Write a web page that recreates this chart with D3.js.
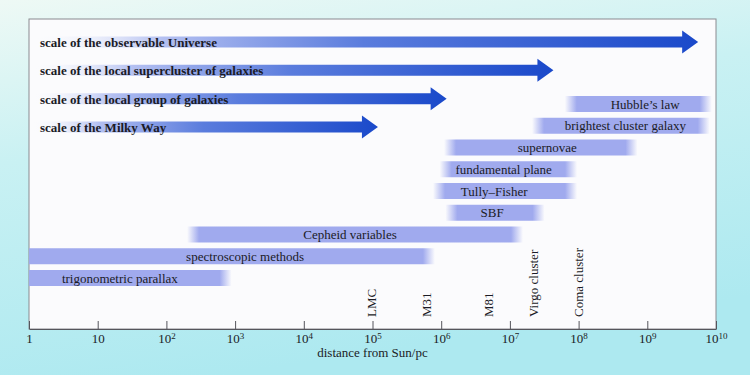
<!DOCTYPE html>
<html lang="en">
<head>
<meta charset="UTF-8">
<title>Distance scale methods</title>
<style>
  body { margin: 0; padding: 0; }
  svg { display: block; }
  text { fill: #1b1b26; }
</style>
<script src="https://d3js.org/d3.v7.min.js"></script>
</head>
<body>
<div id="chart"></div>
<script>
// size scales (arrows run from 1 pc up to the tip)
const scaleNames = [
  "scale of the observable Universe",
  "scale of the local supercluster of galaxies",
  "scale of the local group of galaxies",
  "scale of the Milky Way"
];
const scaleTips = [5.5e9, 4.3e7, 1.2e6, 1.2e5];

// distance methods, ranges in pc
const methods = [
  "Hubble\u2019s law", "brightest cluster galaxy", "supernovae", "fundamental plane",
  "Tully\u2013Fisher", "SBF", "Cepheid variables", "spectroscopic methods", "trigonometric parallax"
];
const methodFrom = [6.3e7, 2.1e7, 1.1e6, 9.5e5, 7.6e5, 1.15e6, 200, 1, 1];
const methodTo   = [8.7e9, 8.1e9, 7.2e8, 9.5e7, 9.5e7, 3.2e7, 1.55e7, 8.1e5, 890];
const methodLabelAt = [9.3e8, 4.8e8, 3.5e7, 8.1e6, 5.9e6, 5.5e6, 4.7e4, 1.4e3, 21];

// reference objects
const objects = ["LMC", "M31", "M81", "Virgo cluster", "Coma cluster"];
const objectDist = [9.5e4, 6e5, 4.8e6, 2.2e7, 1e8];

const tickValues = [1, 10, 1e2, 1e3, 1e4, 1e5, 1e6, 1e7, 1e8, 1e9, 1e10];

const width = 750, height = 375;
const plotLeft = 29, plotRight = 716, plotTop = 19, plotBottom = 329;
const serif = "'Liberation Serif', 'Times New Roman', serif";

const svg = d3.select("#chart").append("svg")
  .attr("width", width).attr("height", height)
  .attr("font-family", serif);
const defs = svg.append("defs");

// page background
const bg = defs.append("linearGradient").attr("id", "bg")
  .attr("x1", 0).attr("y1", 0).attr("x2", 0.3).attr("y2", 1);
bg.append("stop").attr("offset", 0).attr("stop-color", "#eef9f5");
bg.append("stop").attr("offset", 0.4).attr("stop-color", "#c9f1f3");
bg.append("stop").attr("offset", 1).attr("stop-color", "#ade9f0");
svg.append("rect").attr("width", width).attr("height", height).attr("fill", "url(#bg)");

svg.append("rect")
  .attr("x", plotLeft).attr("y", plotTop)
  .attr("width", plotRight - plotLeft).attr("height", plotBottom - plotTop)
  .attr("fill", "#fbfbfd").attr("stroke", "#8a8a90").attr("stroke-width", 1);

const x = d3.scaleLog().domain([1, 1e10]).range([plotLeft, plotRight]);
const yArrow = d3.scalePoint().domain(scaleNames).range([42, 127]);
const yMethod = d3.scalePoint().domain(methods).range([104, 278]);

// method bars with soft ends
const barH = 16, fade = 12, barColor = "#a0aaee";
methods.forEach((m, i) => {
  const x0 = x(methodFrom[i]), x1 = x(methodTo[i]);
  const w = x1 - x0;
  const g = defs.append("linearGradient").attr("id", "m" + i)
    .attr("x1", 0).attr("x2", 1).attr("y1", 0).attr("y2", 0);
  const f = fade / w;
  const hardLeft = methodFrom[i] <= 1;
  g.append("stop").attr("offset", 0).attr("stop-color", barColor).attr("stop-opacity", hardLeft ? 1 : 0);
  g.append("stop").attr("offset", hardLeft ? 0 : f).attr("stop-color", barColor).attr("stop-opacity", 1);
  g.append("stop").attr("offset", 1 - f).attr("stop-color", barColor).attr("stop-opacity", 1);
  g.append("stop").attr("offset", 1).attr("stop-color", barColor).attr("stop-opacity", 0);

  svg.append("rect")
    .attr("x", x0).attr("y", yMethod(m) - barH / 2)
    .attr("width", w).attr("height", barH)
    .attr("fill", `url(#m${i})`);

  svg.append("text")
    .attr("x", x(methodLabelAt[i])).attr("y", yMethod(m) + 4.5)
    .attr("text-anchor", "middle")
    .attr("font-size", 13)
    .text(m);
});

// scale arrows
const ag = defs.append("linearGradient").attr("id", "arrowGrad")
  .attr("x1", 0).attr("x2", 1).attr("y1", 0).attr("y2", 0);
ag.append("stop").attr("offset", 0).attr("stop-color", "#ffffff").attr("stop-opacity", 0);
ag.append("stop").attr("offset", 0.2).attr("stop-color", "#b3bff1");
ag.append("stop").attr("offset", 0.5).attr("stop-color", "#5a7cdd");
ag.append("stop").attr("offset", 1).attr("stop-color", "#1a49ca");

const bodyH = 11, headH = 23, headL = 16;
scaleNames.forEach((s, i) => {
  const cy = yArrow(s), x0 = x(1), tip = x(scaleTips[i]);
  const p = d3.path();
  p.moveTo(x0, cy - bodyH / 2);
  p.lineTo(tip - headL, cy - bodyH / 2);
  p.lineTo(tip - headL, cy - headH / 2);
  p.lineTo(tip, cy);
  p.lineTo(tip - headL, cy + headH / 2);
  p.lineTo(tip - headL, cy + bodyH / 2);
  p.lineTo(x0, cy + bodyH / 2);
  p.closePath();
  svg.append("path").attr("d", p.toString()).attr("fill", "url(#arrowGrad)");

  svg.append("text")
    .attr("x", 40).attr("y", cy + 5)
    .attr("font-size", 13).attr("font-weight", "bold")
    .text(s);
});

// reference objects, vertical labels
objects.forEach((o, i) => {
  svg.append("text")
    .attr("transform", `translate(${x(objectDist[i])},317) rotate(-90)`)
    .attr("dy", "0.35em")
    .attr("font-size", 13)
    .text(o);
});

// axis
const axis = d3.axisBottom(x)
  .tickValues(tickValues)
  .tickSize(-8)
  .tickSizeOuter(0)
  .tickPadding(5)
  .tickFormat(() => "");

const ax = svg.append("g")
  .attr("transform", `translate(0,${plotBottom})`)
  .call(axis)
  .attr("font-family", serif);
ax.select(".domain").attr("stroke", "#55555c");
ax.selectAll(".tick line").attr("stroke", "#55555c");
ax.selectAll(".tick text").each(function(d) {
  const t = d3.select(this)
    .attr("font-size", 13)
    .attr("fill", "#1b1b26");
  const e = Math.round(Math.log10(d));
  if (e === 0) { t.append("tspan").text("1"); return; }
  t.append("tspan").text("10");
  if (e > 1) {
    t.append("tspan").attr("dy", "-0.45em").attr("font-size", 9).text(e);
  }
});

svg.append("text")
  .attr("x", (plotLeft + plotRight) / 2).attr("y", 357)
  .attr("text-anchor", "middle")
  .attr("font-size", 13)
  .text("distance from Sun/pc");
</script>
</body>
</html>
